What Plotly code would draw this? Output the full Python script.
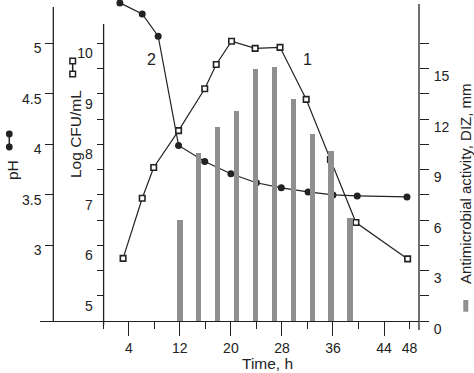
import plotly.graph_objects as go

# ---- data ----
ph_time = [2.6, 6.1, 8.6, 11.8, 15.9, 20.0, 24.0, 27.9, 32.1, 36.0, 39.8, 47.6]
ph_value = [5.40, 5.29, 5.07, 3.99, 3.83, 3.71, 3.62, 3.57, 3.53, 3.50, 3.49, 3.48]

cfu_time = [3.1, 6.1, 7.9, 11.8, 15.9, 17.7, 20.1, 23.8, 27.7, 31.8, 35.6, 39.6, 47.7]
cfu_log = [5.74, 6.93, 7.54, 8.27, 9.10, 9.58, 10.04, 9.90, 9.92, 8.89, 7.70, 6.45, 5.73]

diz_time = [12, 14.9, 17.9, 20.9, 23.9, 26.8, 29.8, 32.8, 35.7, 38.7]
diz_mm = [6.0, 10.0, 11.5, 12.5, 15.0, 15.1, 13.2, 11.1, 10.1, 6.1]

x_label_vals = [4, 12, 20, 28, 36, 44, 48]
x_label_text = ["4", "12", "20", "28", "36", "44", "48"]
x_major_ticks = [4, 12, 20, 28, 36, 44]
x_minor_ticks = [0, 8, 16, 24, 32, 40, 48]

ph_tick_vals = [3, 3.5, 4, 4.5, 5]
ph_tick_text = ["3", "3.5", "4", "4.5", "5"]
cfu_tick_vals = [5, 6, 7, 8, 9, 10]
cfu_tick_text = ["5", "6", "7", "8", "9", "10"]
cfu_minor_vals = [5.5, 6.5, 7.5, 8.5, 9.5]
diz_tick_vals = [0, 3, 6, 9, 12, 15]
diz_tick_text = ["0", "3", "6", "9", "12", "15"]
diz_minor_vals = [1.5, 4.5, 7.5, 10.5, 13.5, 16.5]

curve_labels = ["2", "1"]
x_title = "Time, h"
ph_title = "pH"
cfu_title = "Log CFU/mL"
diz_title = "Antimicrobial activity, DIZ, mm"

# ---- layout geometry (pixels) ----
W, H = 474, 373
L, R, T, B = 40, 419, 0, 321
PW, PH = R - L, B - T


def px(x):
    return (x - L) / PW


def py(y):
    return (B - y) / PH


INK = "#222222"
BAR = "#8f8f8f"
FONT = "Liberation Sans, Arial, sans-serif"

fig = go.Figure()

fig.add_trace(go.Scatter(
    x=ph_time, y=ph_value, mode="lines+markers", xaxis="x", yaxis="y",
    line=dict(color=INK, width=1.2),
    marker=dict(symbol="circle", size=7, color=INK),
    cliponaxis=False, hoverinfo="skip"))

fig.add_trace(go.Scatter(
    x=cfu_time, y=cfu_log, mode="lines+markers", xaxis="x", yaxis="y2",
    line=dict(color=INK, width=1.2),
    marker=dict(symbol="square", size=5.5, color="white",
                line=dict(color=INK, width=1.6)),
    cliponaxis=False, hoverinfo="skip"))

fig.add_trace(go.Bar(
    x=diz_time, y=diz_mm, xaxis="x", yaxis="y3", width=0.85,
    marker=dict(color=BAR, line=dict(width=0)), hoverinfo="skip"))

# dummy trace carrying the tick-mark x axis
fig.add_trace(go.Scatter(x=[None], y=[None], xaxis="x2", yaxis="y",
                         mode="markers", showlegend=False, hoverinfo="skip"))

tickfont = dict(family=FONT, size=14, color=INK)
xr = [(L - 103.3) / 6.38, (R - 103.3) / 6.38]
# shared pixel grid: tick rows every 25.25 px, bottom at y=321
ph_range = [3 - (B - 245.5) / 101.0, 5 + (43.3 - T) / 101.0]
cfu_range = [4.5, 10 + (43.3 - T) / 50.5]
diz_range = [0, (B - T) / 16.83]

fig.update_layout(
    width=W, height=H,
    margin=dict(l=L, r=W - R, t=T, b=H - B, pad=0),
    paper_bgcolor="white", plot_bgcolor="white",
    showlegend=False, bargap=0,
    font=dict(family=FONT, color=INK),
    xaxis=dict(domain=[0, 1], range=xr, anchor="y",
               showline=True, linecolor=INK, linewidth=1.3,
               tickmode="array", tickvals=x_label_vals, ticktext=x_label_text,
               ticks="", ticklabelstandoff=14, tickfont=tickfont,
               showgrid=False, zeroline=False),
    xaxis2=dict(overlaying="x", range=xr, anchor="y", side="bottom",
                tickmode="array", tickvals=x_major_ticks, ticks="outside",
                ticklen=14, tickwidth=1.3, tickcolor=INK, showticklabels=False,
                minor=dict(tickmode="array", tickvals=x_minor_ticks, ticks="outside",
                           ticklen=7, tickwidth=1.3, tickcolor=INK, showgrid=False),
                showline=False, showgrid=False, zeroline=False),
    yaxis=dict(domain=[0, 1], range=ph_range, anchor="free",
               position=px(53.3), side="left",
               tickmode="array", tickvals=ph_tick_vals, ticktext=ph_tick_text,
               ticks="outside", ticklen=8, tickwidth=1.3, tickcolor=INK,
               ticklabelshift=5, ticklabelstandoff=1, tickfont=tickfont,
               showline=False, showgrid=False, zeroline=False),
    yaxis2=dict(overlaying="y", range=cfu_range, anchor="free",
                position=px(103.6), side="left",
                tickmode="array", tickvals=cfu_tick_vals, ticktext=cfu_tick_text,
                ticks="outside", ticklen=7, tickwidth=1.3, tickcolor=INK,
                minor=dict(tickmode="array", tickvals=cfu_minor_vals, ticks="outside",
                           ticklen=7, tickwidth=1.3, tickcolor=INK, showgrid=False),
                ticklabelshift=10, ticklabelstandoff=1, tickfont=tickfont,
                showline=False, showgrid=False, zeroline=False),
    yaxis3=dict(overlaying="y", range=diz_range, anchor="x", side="right",
                tickmode="array", tickvals=diz_tick_vals, ticktext=diz_tick_text,
                ticks="outside", ticklen=9, tickwidth=1.3, tickcolor=INK,
                minor=dict(tickmode="array", tickvals=diz_minor_vals, ticks="outside",
                           ticklen=9, tickwidth=1.3, tickcolor=INK, showgrid=False),
                ticklabelshift=8, ticklabelstandoff=2, tickfont=tickfont,
                showline=False, showgrid=False, zeroline=False),
)

shapes = []
# axis lines with their own extents
axis_lines = [(53.3, 321, 7), (103.6, 325, 24), (419, 330, 4)]
for ax_x, y_bot, y_top in axis_lines:
    shapes.append(dict(type="line", xref="paper", yref="paper",
                       x0=px(ax_x), x1=px(ax_x), y0=py(y_bot), y1=py(y_top),
                       line=dict(color=INK, width=1.3)))
# legend glyph for pH
shapes.append(dict(type="line", xref="paper", yref="paper",
                   x0=px(9.3), x1=px(9.3), y0=py(134), y1=py(147),
                   line=dict(color=INK, width=1.5)))
for cy in (134, 147):
    shapes.append(dict(type="circle", xref="paper", yref="paper",
                       x0=px(9.3 - 3.4), x1=px(9.3 + 3.4),
                       y0=py(cy + 3.4), y1=py(cy - 3.4),
                       fillcolor=INK, line=dict(color=INK, width=0)))
# legend glyph for log CFU
shapes.append(dict(type="line", xref="paper", yref="paper",
                   x0=px(72.7), x1=px(72.7), y0=py(61), y1=py(74),
                   line=dict(color=INK, width=1.5)))
for cy in (61, 74):
    shapes.append(dict(type="rect", xref="paper", yref="paper",
                       x0=px(72.7 - 2.8), x1=px(72.7 + 2.8),
                       y0=py(cy + 2.8), y1=py(cy - 2.8),
                       fillcolor="white", line=dict(color=INK, width=1.5)))
# legend glyph for bars
shapes.append(dict(type="rect", xref="paper", yref="paper",
                   x0=px(463.3), x1=px(468.3), y0=py(311.7), y1=py(300),
                   fillcolor=BAR, line=dict(width=0)))
fig.update_layout(shapes=shapes)

title_font = dict(family=FONT, size=15.5, color=INK)
ann = [
    dict(text=x_title, x=px(267.5), y=py(363), xref="paper", yref="paper",
         showarrow=False, font=title_font, xanchor="center", yanchor="middle"),
    dict(text=ph_title, x=px(12), y=py(170), xref="paper", yref="paper",
         showarrow=False, font=title_font, textangle=-90,
         xanchor="center", yanchor="middle"),
    dict(text=cfu_title, x=px(75), y=py(134), xref="paper", yref="paper",
         showarrow=False, font=title_font, textangle=-90,
         xanchor="center", yanchor="middle"),
    dict(text=diz_title, x=px(465.5), y=py(183.5), xref="paper", yref="paper",
         showarrow=False, font=dict(family=FONT, size=15, color=INK), textangle=-90,
         xanchor="center", yanchor="middle"),
    dict(text=curve_labels[0], x=px(151.7), y=py(59.3), xref="paper", yref="paper",
         showarrow=False, font=dict(family=FONT, size=16, color=INK),
         xanchor="center", yanchor="middle"),
    dict(text=curve_labels[1], x=px(307.3), y=py(59.3), xref="paper", yref="paper",
         showarrow=False, font=dict(family=FONT, size=16, color=INK),
         xanchor="center", yanchor="middle"),
]
fig.update_layout(annotations=ann)

fig.write_html(
    "out.html",
    config=dict(displayModeBar=False),
    post_script="document.body.style.margin='0';document.body.style.padding='0';",
)
